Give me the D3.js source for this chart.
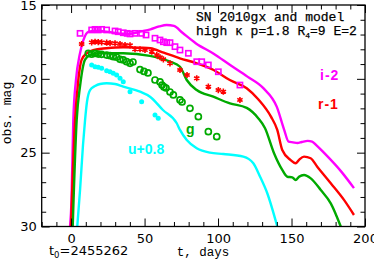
<!DOCTYPE html>
<html><head><meta charset="utf-8">
<script src="https://cdn.jsdelivr.net/npm/d3@7"></script>
<style>
html,body{margin:0;padding:0;background:#fff;}
svg{display:block;}
</style></head>
<body>
<svg id="chart" width="374" height="261"></svg>
<script>
// ---- data (t in days, observed magnitude) ----
const xMajorTicks = [0, 50, 100, 150, 200];
const yMajorTicks = [15, 20, 25, 30];

// model curves
const iModelT = [-0.7, 0.3, 1.5, 3.3, 6, 8.3, 12, 16, 20, 24, 30, 35, 40, 47, 54, 60, 65, 70, 76, 85, 97, 108, 120, 131, 140, 145, 148, 151, 154, 157, 161, 164, 167, 172, 184, 192.5];
const iModelM = [30, 28.2, 22.8, 20.1, 18.3, 17.4, 16.8, 16.75, 16.75, 16.8, 16.9, 16.95, 16.95, 16.8, 16.65, 16.45, 16.35, 16.42, 16.9, 17.6, 18.3, 19.05, 19.85, 20.65, 21.9, 23.45, 24.25, 24.3, 24.35, 24.28, 24.2, 24.25, 24.5, 25, 26.3, 27.4];
const rModelT = [-0.1, 2.7, 4.9, 7.2, 10.6, 15, 24, 35.5, 47, 54, 63, 74, 85.5, 97, 108, 119.5, 127.5, 136, 140.3, 143.7, 149.4, 152.8, 155, 158.5, 163, 167.5, 176.7, 185.7, 192.5];
const rModelM = [30, 22.8, 20.1, 18.7, 18.27, 18.05, 17.93, 17.86, 17.89, 17.93, 18.23, 18.61, 18.95, 19.4, 20.08, 20.64, 21.4, 22.56, 23.46, 24.82, 25.5, 25.72, 25.5, 25.27, 25.38, 25.95, 27.07, 28.2, 29.22];
const gModelT = [1.1, 3.8, 6.1, 9.5, 12.9, 19.7, 35.5, 53.7, 67.3, 74.1, 78.7, 85.5, 96.8, 108.1, 119.5, 127.2, 131.9, 138.1, 143.7, 147.1, 150.5, 152.8, 155.1, 158.5, 163.1, 169.9, 176.7, 183.5];
const gModelM = [30, 22.8, 20.5, 18.7, 18.4, 18.27, 18.27, 18.45, 18.84, 19.18, 20.08, 20.76, 21.21, 21.66, 21.97, 22.65, 23.33, 25.04, 26.17, 26.63, 26.67, 26.85, 26.63, 26.51, 26.74, 27.53, 28.43, 30];
const uModelT = [4.2, 6.1, 8.1, 9.5, 10.8, 12.9, 16.3, 19.7, 24.2, 29.9, 35.5, 46.9, 53.7, 62.5, 71.9, 74.1, 78.7, 85.5, 94.5, 103.6, 117.2, 124, 128.6, 133.5, 140.3];
const uModelM = [30, 27.53, 24.48, 22.79, 21.57, 20.76, 20.49, 20.35, 20.3, 20.35, 20.53, 20.87, 21.21, 22.11, 23.01, 23.46, 24.14, 24.7, 25.0, 25.09, 25.27, 25.72, 26.63, 27.75, 30];

// observations
const iObsT = [6.1, 14.0, 16.3, 18.5, 20.8, 24.2, 29.9, 32.1, 35.5, 38.2, 40.1, 43.5, 48.0, 51.0, 57.1, 60.5, 62.8, 65.1, 67.3, 70.7, 74.1, 79.8, 85.5, 88.9, 93.4, 100.2, 114.9];
const iObsM = [16.92, 16.69, 16.65, 16.69, 16.65, 16.69, 16.76, 16.81, 16.88, 16.92, 16.96, 16.92, 16.92, 17.03, 17.25, 17.37, 17.49, 17.55, 17.55, 17.82, 18.05, 18.27, 18.84, 18.84, 19.06, 19.52, 20.42];
const rObsT = [7.2, 14.0, 16.3, 18.5, 20.8, 24.2, 26.5, 29.9, 33.3, 36.7, 40.1, 43.5, 46.9, 50.3, 54.9, 58.3, 60.5, 62.8, 67.3, 74.1, 78.9, 85.5, 93.4, 100.2, 103.6, 114.9];
const rObsM = [17.64, 17.53, 17.49, 17.51, 17.53, 17.55, 17.57, 17.59, 17.64, 17.71, 17.73, 18.0, 18.0, 18.05, 18.16, 18.39, 18.54, 18.68, 18.95, 19.4, 19.74, 19.96, 20.53, 20.76, 20.87, 21.43];
const gObsT = [11.7, 14.0, 16.3, 18.5, 20.8, 24.2, 26.5, 28.7, 31.0, 33.3, 35.5, 37.8, 40.1, 42.1, 46.9, 49.6, 52.3, 57.1, 60.5, 61.9, 63.2, 64.6, 67.3, 69.6, 74.1, 75.5, 80.9, 86.6, 93.4, 99.1];
const gObsM = [18.27, 18.33, 18.27, 18.32, 18.34, 18.39, 18.43, 18.5, 18.54, 18.68, 18.72, 18.84, 18.95, 18.86, 19.37, 19.5, 19.6, 20.08, 20.21, 20.42, 20.55, 20.62, 20.89, 21.09, 21.43, 21.57, 22.0, 22.56, 23.58, 23.92];
const uObsT = [14.0, 16.3, 18.5, 20.8, 24.2, 26.5, 28.7, 31.0, 33.3, 35.5, 40.1, 48.0, 57.1, 59.3];
const uObsM = [19.06, 19.18, 19.22, 19.29, 19.45, 19.52, 19.63, 19.74, 19.96, 20.19, 20.87, 21.55, 22.45, 22.67];

const bandLabels = ["i-2", "r-1", "g", "u+0.8"];
const bandColors = ["#ff00ff", "#ff0000", "#00aa00", "#00ffff"];

// ---- drawing ----
const svg = d3.select("#chart");
const x = d3.scaleLinear().domain([-20, 200]).range([41.7, 365]);
const y = d3.scaleLinear().domain([15, 30]).range([5, 226.5]);
const [x0, x1] = x.range(), [y0, y1] = y.range();

svg.append("clipPath").attr("id", "clp").append("rect")
  .attr("x", x0).attr("y", y0).attr("width", x1 - x0).attr("height", y1 - y0);

const zip = (a, b) => a.map((v, i) => [v, b[i]]);
const line = d3.line().x(d => x(d[0])).y(d => y(d[1])).curve(d3.curveMonotoneX);

const models = [zip(iModelT, iModelM), zip(rModelT, rModelM), zip(gModelT, gModelM), zip(uModelT, uModelM)];
const gl = svg.append("g").attr("clip-path", "url(#clp)");
models.forEach((m, k) => {
  gl.append("path").datum(m).attr("d", line)
    .attr("fill", "none").attr("stroke", bandColors[k]).attr("stroke-width", 2.4)
    .attr("stroke-linejoin", "round");
});

// observations
const gp = svg.append("g");
gp.selectAll("rect.sq").data(zip(iObsT, iObsM)).join("rect")
  .attr("x", d => x(d[0]) - 2.6).attr("y", d => y(d[1]) - 2.6)
  .attr("width", 5.2).attr("height", 5.2)
  .attr("fill", "none").attr("stroke", bandColors[0]).attr("stroke-width", 1.6);
const ast = d3.symbol(d3.symbolAsterisk, 26);
gp.selectAll("path.ast").data(zip(rObsT, rObsM)).join("path")
  .attr("transform", d => `translate(${x(d[0])},${y(d[1])})`)
  .attr("d", ast).attr("fill", "none").attr("stroke", bandColors[1]).attr("stroke-width", 1.6);
gp.selectAll("circle.g").data(zip(gObsT, gObsM)).join("circle")
  .attr("cx", d => x(d[0])).attr("cy", d => y(d[1])).attr("r", 3)
  .attr("fill", "none").attr("stroke", bandColors[2]).attr("stroke-width", 1.7);
gp.selectAll("circle.u").data(zip(uObsT, uObsM)).join("circle")
  .attr("cx", d => x(d[0])).attr("cy", d => y(d[1])).attr("r", 2.5)
  .attr("fill", bandColors[3]);

// axes
const sans = "'DejaVu Sans', Verdana, sans-serif";
const mono = "'Liberation Mono', 'Courier New', monospace";
function styleAxis(g) {
  g.select(".domain").remove();
  g.selectAll("line").attr("stroke", "#000").attr("stroke-width", 1);
  g.selectAll("text").attr("font-family", sans).attr("font-size", 13).attr("fill", "#000");
}
const xMinor = d3.range(-20, 201, 10).filter(v => !xMajorTicks.includes(v));
const yMinor = d3.range(15, 30.01, 1).filter(v => !yMajorTicks.includes(v));

svg.append("g").attr("transform", `translate(0,${y1})`)
  .call(d3.axisBottom(x).tickValues(xMajorTicks).tickSize(-8).tickPadding(7)).call(styleAxis);
svg.append("g").attr("transform", `translate(0,${y1})`)
  .call(d3.axisBottom(x).tickValues(xMinor).tickSize(-4.5).tickFormat("")).call(styleAxis);
svg.append("g").attr("transform", `translate(0,${y0})`)
  .call(d3.axisTop(x).tickValues(xMajorTicks).tickSize(-8).tickFormat("")).call(styleAxis);
svg.append("g").attr("transform", `translate(0,${y0})`)
  .call(d3.axisTop(x).tickValues(xMinor).tickSize(-4.5).tickFormat("")).call(styleAxis);
svg.append("g").attr("transform", `translate(${x0},0)`)
  .call(d3.axisLeft(y).tickValues(yMajorTicks).tickSize(-8).tickPadding(5)).call(styleAxis);
svg.append("g").attr("transform", `translate(${x0},0)`)
  .call(d3.axisLeft(y).tickValues(yMinor).tickSize(-4.5).tickFormat("")).call(styleAxis);
svg.append("g").attr("transform", `translate(${x1},0)`)
  .call(d3.axisRight(y).tickValues(yMajorTicks).tickSize(-8).tickFormat("")).call(styleAxis);
svg.append("g").attr("transform", `translate(${x1},0)`)
  .call(d3.axisRight(y).tickValues(yMinor).tickSize(-4.5).tickFormat("")).call(styleAxis);

svg.append("rect").attr("x", x0).attr("y", y0).attr("width", x1 - x0).attr("height", y1 - y0)
  .attr("fill", "none").attr("stroke", "#000").attr("stroke-width", 1.3);

// axis titles
svg.append("text").attr("transform", "translate(10.5,113) rotate(-90)")
  .attr("text-anchor", "middle").attr("font-family", mono).attr("font-size", 13).text("obs. mag");
svg.append("text").attr("x", 203).attr("y", 255.5).attr("text-anchor", "middle")
  .attr("font-family", mono).attr("font-size", 12.5).text("t, days");
const t0 = svg.append("text").attr("x", 49).attr("y", 255).attr("font-family", sans).attr("font-size", 13);
t0.append("tspan").text("t");
t0.append("tspan").attr("font-size", 8.5).attr("dy", 2.5).text("0");
t0.append("tspan").attr("dy", -2.5).text("=2455262");

// legend text
svg.append("text").attr("x", 196).attr("y", 21).attr("font-family", mono).attr("font-size", 13)
  .attr("stroke", "#000").attr("stroke-width", 0.25).text("SN 2010gx and model");
const l2 = svg.append("text").attr("x", 196).attr("y", 35).attr("font-family", mono).attr("font-size", 13)
  .attr("stroke", "#000").attr("stroke-width", 0.25);
l2.append("tspan").text("high κ p=1.8 R");
l2.append("tspan").attr("font-size", 8).attr("dy", 2.5).text("4");
l2.append("tspan").attr("dy", -2.5).text("=9 E=2");

// band labels
const labelPos = [[320, 80], [318, 109], [186, 134], [128, 154]];
bandLabels.forEach((s, k) => {
  svg.append("text").attr("x", labelPos[k][0]).attr("y", labelPos[k][1])
    .attr("font-family", "'Liberation Sans', Arial, sans-serif").attr("font-weight", "bold").attr("font-size", 14)
    .attr("letter-spacing", k < 2 ? 1 : 0)
    .attr("fill", bandColors[k]).text(s);
});
</script>
</body></html>
